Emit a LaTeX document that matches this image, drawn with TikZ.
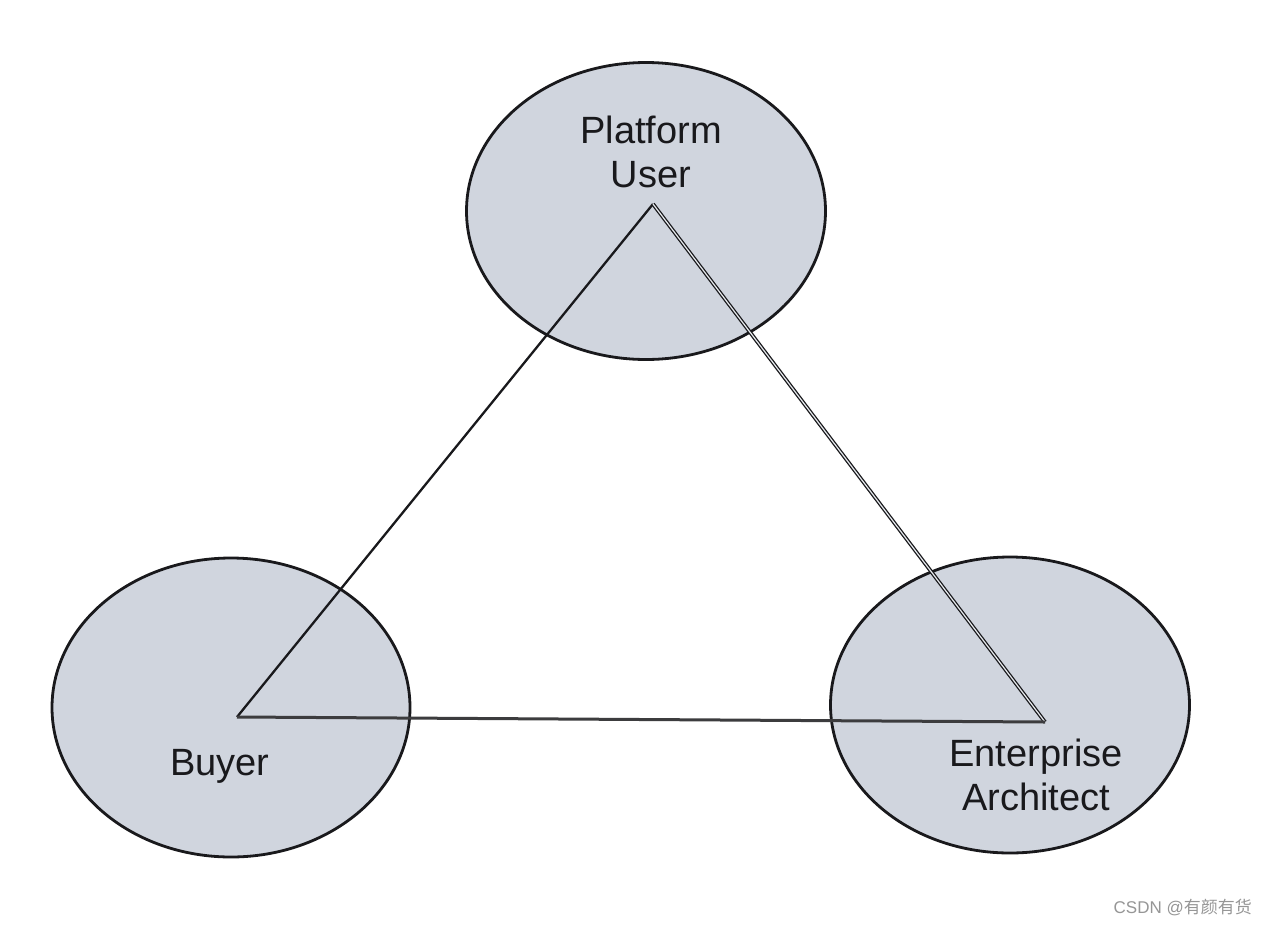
\documentclass[tikz,border=0pt]{standalone}
\usepackage{fontspec}
\setmainfont{Liberation Sans}
\newfontfamily\cjkfont{Noto Sans CJK SC}
\usetikzlibrary{shapes.geometric}
\definecolor{bubblefill}{RGB}{208,213,222}
\definecolor{inkline}{RGB}{25,25,28}
\definecolor{markgray}{RGB}{150,150,150}
\tikzset{
  bubble/.style={ellipse, draw=inkline, line width=2.8pt, fill=bubblefill, inner sep=0pt},
  label38/.style={font=\fontsize{38}{44}\selectfont, text=inkline, align=center, inner sep=0pt, anchor=base},
  edgeline/.style={draw=inkline, line width=2.3pt, line join=round},
}
\begin{document}
\begin{tikzpicture}[x=1pt,y=-1pt]
\useasboundingbox[fill=white] (0,0) rectangle (1268,926);
% bubbles
\node[bubble, minimum width=359pt, minimum height=297pt] (pu) at (646,211) {};
\node[bubble, minimum width=358pt, minimum height=299pt] (buy) at (231,707.5) {};
\node[bubble, minimum width=359pt, minimum height=296pt] (ea) at (1010,705) {};
% triangle vertices
\coordinate (vt) at (653,204);
\coordinate (vl) at (237,717);
\coordinate (vr) at (1045,722);
% edges
\draw[edgeline] (vl) -- (vt);
\draw[draw=inkline, line width=1.3pt, double=bubblefill!50!white, double distance=1.2pt] (vt) -- (vr);
\draw[draw=inkline!85!white, line width=3pt] (vl) -- (vr);
% labels (base anchor of a two-line node sits on the last line)
\node[label38] (tpu) at (651,187) {Platform\\User};
\node[label38] (tbuy) at (220,775) {Buyer};
\node[label38] (tea) at (1036,810) {Enterprise\\Architect};
% watermark
\node[font=\fontsize{17}{20}\selectfont, text=markgray, anchor=base east, inner sep=0pt] (wm) at (1252,913) {CSDN @{\cjkfont 有颜有货}};
\end{tikzpicture}
\end{document}
